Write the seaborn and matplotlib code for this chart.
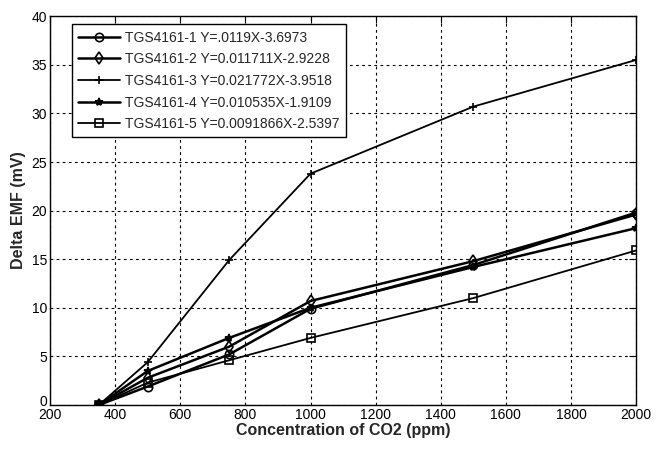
import numpy as np
import pandas as pd
import seaborn as sns
import matplotlib.pyplot as plt
from matplotlib.transforms import ScaledTranslation

# CO2 concentration (ppm) and delta EMF (mV) for each sensor
conc = [350, 500, 750, 1000, 1500, 2000]
s1 = [0.0, 1.9, 5.2, 9.9, 14.4, 19.8]
s2 = [0.0, 2.8, 6.0, 10.7, 14.8, 19.6]
s3 = [0.0, 4.4, 14.9, 23.8, 30.7, 35.5]
s4 = [0.0, 3.5, 6.9, 10.0, 14.2, 18.2]
s5 = [0.0, 2.3, 4.6, 6.9, 11.0, 15.9]

labels = ["TGS4161-1 Y=.0119X-3.6973",
          "TGS4161-2 Y=0.011711X-2.9228",
          "TGS4161-3 Y=0.021772X-3.9518",
          "TGS4161-4 Y=0.010535X-1.9109",
          "TGS4161-5 Y=0.0091866X-2.5397"]
series = [s1, s2, s3, s4, s5]
markers = ["o", "d", "+", "*", "s"]
widths = [1.8, 1.8, 1.3, 1.8, 1.3]

sns.set_style("white")
plt.rcParams['font.family'] = ['Liberation Sans', 'DejaVu Sans']

fig = plt.figure(figsize=(6.62, 4.5), dpi=100)
ax = fig.add_axes([0.0755, 0.1, 0.8855, 0.864])

for lab, ys, m, lw in zip(labels, series, markers, widths):
    df = pd.DataFrame({"x": conc, "y": ys})
    filled = m in ("*", "+")
    sns.lineplot(data=df, x="x", y="y", ax=ax, color="black", lw=lw,
                 marker=m, markersize=6,
                 markerfacecolor="black" if filled else "none",
                 markeredgecolor="black", markeredgewidth=1.2, label=lab)

ax.set_xlim(200, 2000)
ax.set_ylim(0, 40)
ax.set_xticks(np.arange(200, 2001, 200))
ax.set_yticks(np.arange(0, 41, 5))
ax.grid(True, color="black", linestyle=(0, (2.5, 3)), linewidth=0.8)
ax.tick_params(direction="in", length=5, top=True, right=True,
               labelsize=10, pad=2, colors="black")
for sp in ax.spines.values():
    sp.set_color("black")
    sp.set_linewidth(1.0)

# nudge the y "0" label up a little so it sits above the x "200" label
fig.canvas.draw()
ylab0 = ax.get_yticklabels()[0]
ylab0.set_transform(ylab0.get_transform() + ScaledTranslation(0, 4 / 100, fig.dpi_scale_trans))

ax.set_xlabel("Concentration of CO2 (ppm)", fontsize=11.5, fontweight="bold", labelpad=1)
ax.set_ylabel("Delta EMF (mV)", fontsize=11.5, fontweight="bold", labelpad=4)

leg = ax.legend(loc="upper left", bbox_to_anchor=(0.0375, 0.979), fontsize=10,
                frameon=True, fancybox=False, edgecolor="black", framealpha=1,
                handlelength=3.0, borderaxespad=0.0, labelspacing=0.55,
                borderpad=0.45, handletextpad=0.4)
leg.get_frame().set_linewidth(1.0)

fig.savefig("out.png", dpi=100)
